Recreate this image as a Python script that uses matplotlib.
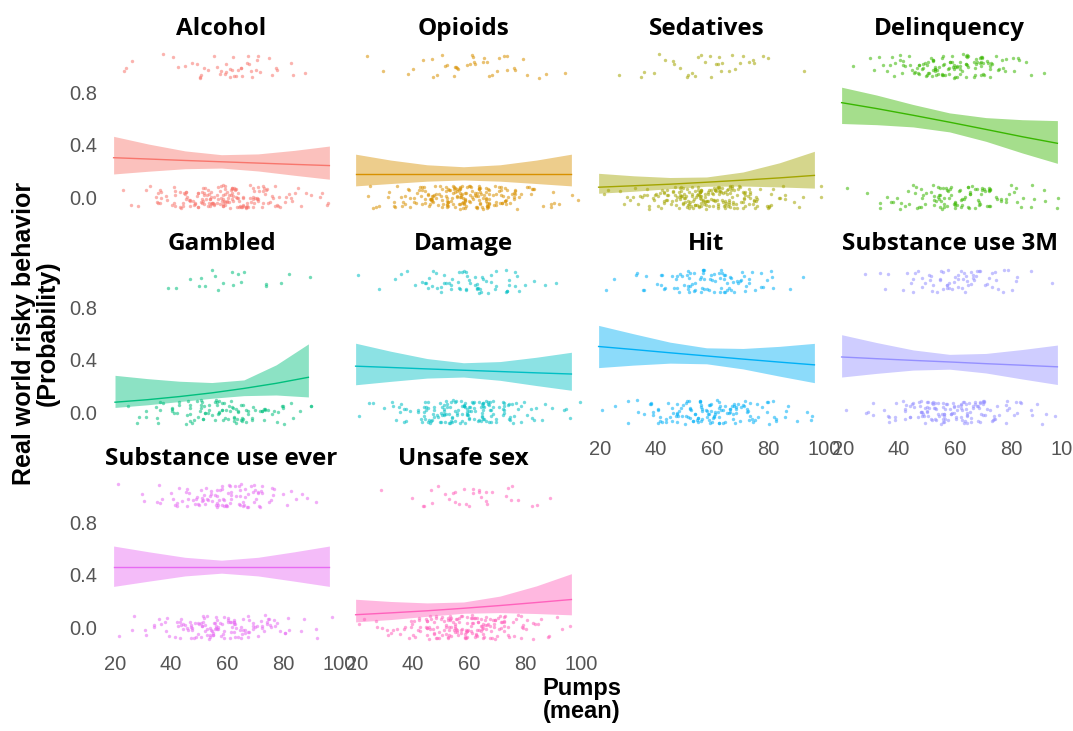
import numpy as np
import matplotlib
matplotlib.use("Agg")
import matplotlib.pyplot as plt

# ---- data -------------------------------------------------------------
behaviors = ["Alcohol", "Opioids", "Sedatives", "Delinquency",
             "Gambled", "Damage", "Hit", "Substance use 3M",
             "Substance use ever", "Unsafe sex"]

colors = ["#F8766D", "#D89000", "#A3A500", "#39B600", "#00BF7D",
          "#00BFC4", "#00B0F6", "#9590FF", "#E76BF3", "#FF62BC"]

# participants per 5-pump bin (20-25, 25-30, ..., 95-100)
bin_edges = [20, 25, 30, 35, 40, 45, 50, 55, 60, 65, 70, 75, 80, 85, 90, 95, 100]

yes_counts = {
    "Alcohol":            [2, 1, 0, 1, 2, 3, 5, 7, 8, 7, 5, 3, 2, 1, 0, 0],
    "Opioids":            [1, 1, 0, 1, 2, 3, 4, 5, 6, 5, 4, 3, 2, 1, 1, 0],
    "Sedatives":          [0, 1, 1, 2, 2, 3, 4, 5, 5, 4, 3, 2, 1, 0, 1, 0],
    "Delinquency":        [1, 1, 3, 5, 9, 13, 18, 20, 19, 15, 11, 6, 4, 2, 1, 0],
    "Gambled":            [0, 0, 0, 1, 1, 2, 3, 3, 3, 2, 2, 1, 1, 1, 0, 0],
    "Damage":             [1, 1, 1, 2, 4, 6, 9, 11, 11, 8, 6, 4, 2, 1, 1, 0],
    "Hit":                [1, 1, 2, 3, 6, 9, 13, 15, 14, 11, 8, 5, 3, 1, 1, 0],
    "Substance use 3M":   [0, 1, 1, 2, 4, 6, 9, 11, 11, 9, 7, 4, 3, 1, 1, 0],
    "Substance use ever": [1, 1, 2, 4, 6, 10, 14, 17, 16, 13, 9, 5, 3, 2, 1, 0],
    "Unsafe sex":         [0, 1, 0, 1, 2, 3, 4, 5, 5, 4, 3, 2, 2, 1, 0, 0],
}
no_counts = {
    "Alcohol":            [1, 2, 4, 8, 12, 18, 24, 28, 26, 21, 15, 9, 6, 4, 2, 2],
    "Opioids":            [2, 3, 6, 9, 14, 20, 28, 32, 30, 24, 17, 10, 6, 4, 2, 2],
    "Sedatives":          [2, 3, 6, 9, 14, 22, 29, 33, 31, 25, 17, 10, 7, 4, 2, 2],
    "Delinquency":        [1, 1, 2, 4, 6, 10, 13, 16, 16, 14, 11, 7, 5, 3, 2, 2],
    "Gambled":            [1, 2, 3, 5, 7, 11, 14, 16, 15, 12, 9, 6, 4, 2, 1, 0],
    "Damage":             [2, 2, 4, 7, 11, 17, 22, 25, 23, 19, 13, 8, 5, 3, 2, 2],
    "Hit":                [1, 2, 3, 6, 9, 14, 18, 20, 19, 16, 12, 7, 5, 3, 2, 2],
    "Substance use 3M":   [1, 2, 3, 6, 10, 15, 20, 22, 21, 17, 12, 7, 5, 3, 2, 1],
    "Substance use ever": [1, 2, 4, 6, 10, 14, 18, 20, 19, 15, 11, 6, 4, 2, 2, 1],
    "Unsafe sex":         [2, 3, 5, 8, 12, 18, 24, 28, 26, 21, 15, 9, 6, 3, 2, 1],
}

# logistic fit (probability) and 95% band at selected pump values
fit_x = {b: [19.5, 32, 45, 58, 71, 84, 96.5] for b in behaviors}
fit_x["Gambled"] = [20, 31.5, 43, 54.5, 66, 77.5, 89]

fit_p = {
    "Alcohol":            [0.300, 0.290, 0.279, 0.269, 0.259, 0.249, 0.240],
    "Opioids":            [0.175, 0.175, 0.175, 0.175, 0.175, 0.175, 0.175],
    "Sedatives":          [0.075, 0.086, 0.098, 0.113, 0.129, 0.146, 0.165],
    "Delinquency":        [0.720, 0.675, 0.624, 0.571, 0.516, 0.460, 0.410],
    "Gambled":            [0.075, 0.094, 0.118, 0.146, 0.180, 0.219, 0.265],
    "Damage":             [0.350, 0.340, 0.329, 0.319, 0.309, 0.299, 0.290],
    "Hit":                [0.500, 0.477, 0.452, 0.428, 0.404, 0.381, 0.360],
    "Substance use 3M":   [0.420, 0.407, 0.394, 0.382, 0.369, 0.357, 0.345],
    "Substance use ever": [0.460, 0.460, 0.460, 0.460, 0.460, 0.460, 0.460],
    "Unsafe sex":         [0.094, 0.108, 0.124, 0.143, 0.164, 0.187, 0.210],
}
fit_lo = {
    "Alcohol":            [0.176, 0.197, 0.216, 0.221, 0.199, 0.166, 0.136],
    "Opioids":            [0.085, 0.103, 0.121, 0.130, 0.121, 0.103, 0.085],
    "Sedatives":          [0.029, 0.044, 0.064, 0.082, 0.084, 0.077, 0.068],
    "Delinquency":        [0.561, 0.552, 0.535, 0.497, 0.425, 0.336, 0.257],
    "Gambled":            [0.035, 0.055, 0.080, 0.105, 0.125, 0.130, 0.115],
    "Damage":             [0.208, 0.234, 0.259, 0.267, 0.242, 0.202, 0.166],
    "Hit":                [0.339, 0.358, 0.373, 0.368, 0.329, 0.274, 0.224],
    "Substance use 3M":   [0.267, 0.295, 0.320, 0.327, 0.298, 0.252, 0.210],
    "Substance use ever": [0.310, 0.350, 0.390, 0.411, 0.390, 0.350, 0.310],
    "Unsafe sex":         [0.039, 0.057, 0.082, 0.105, 0.110, 0.103, 0.093],
}
fit_hi = {
    "Alcohol":            [0.463, 0.404, 0.352, 0.323, 0.329, 0.356, 0.389],
    "Opioids":            [0.327, 0.282, 0.246, 0.231, 0.246, 0.282, 0.327],
    "Sedatives":          [0.181, 0.162, 0.149, 0.153, 0.191, 0.261, 0.349],
    "Delinquency":        [0.838, 0.778, 0.706, 0.642, 0.606, 0.590, 0.583],
    "Gambled":            [0.280, 0.255, 0.235, 0.225, 0.245, 0.360, 0.520],
    "Damage":             [0.525, 0.464, 0.408, 0.376, 0.385, 0.418, 0.456],
    "Hit":                [0.661, 0.597, 0.533, 0.490, 0.485, 0.501, 0.524],
    "Substance use 3M":   [0.590, 0.530, 0.474, 0.440, 0.447, 0.477, 0.511],
    "Substance use ever": [0.618, 0.574, 0.532, 0.510, 0.532, 0.574, 0.618],
    "Unsafe sex":         [0.212, 0.195, 0.184, 0.191, 0.236, 0.314, 0.407],
}

x_ticks = [20, 40, 60, 80, 100]
y_ticks = [0.0, 0.4, 0.8]
y_tick_labels = ["0.0", "0.4", "0.8"]


# ---- helpers ----------------------------------------------------------
def _hash01(a, b):
    v = np.sin(a * 12.9898 + b * 78.233) * 43758.5453
    return v - np.floor(v)


def spread_points(counts, level, seed):
    """Lay out binned observations as a jittered strip around `level`."""
    xs, ys = [], []
    j = 0
    for i, n in enumerate(counts):
        lo, hi = bin_edges[i], bin_edges[i + 1]
        for k in range(n):
            fx = _hash01(j + 0.37, seed + 1.3)
            fy = _hash01(j + 5.11, seed * 1.7 + 9.1)
            xs.append(lo + (hi - lo) * fx)
            ys.append(level + 0.09 * (2 * fy - 1))
            j += 1
    return xs, ys


# ---- figure -----------------------------------------------------------
W, H = 1073, 731
fig = plt.figure(figsize=(W / 100, H / 100), dpi=100)
fig.patch.set_facecolor("white")

col_left = [101, 343, 586, 829]
row_top = [45, 260, 475]
ax_w, ax_h = 241, 173

tick_font = dict(family="Liberation Sans", size=14.5, color="#555555")
title_font = dict(family="Open Sans", size=17.5, weight="bold", color="black")

for idx, name in enumerate(behaviors):
    r, c = divmod(idx, 4)
    left = col_left[c] / W
    bottom = 1 - (row_top[r] + ax_h) / H
    ax = fig.add_axes([left, bottom, ax_w / W, ax_h / H])
    ax.set_xlim(15, 101)
    ax.set_ylim(-0.16, 1.16)
    for s in ax.spines.values():
        s.set_visible(False)
    ax.set_facecolor("none")
    col = colors[idx]

    # observations
    for level, counts, sd in ((0.0, no_counts[name], idx), (1.0, yes_counts[name], idx + 11)):
        px, py = spread_points(counts, level, sd)
        ax.scatter(px, py, s=6, color=col, alpha=0.55, linewidths=0, zorder=2)

    # fitted probability with confidence band
    ax.fill_between(fit_x[name], fit_lo[name], fit_hi[name], color=col,
                    alpha=0.45, linewidth=0, zorder=3)
    ax.plot(fit_x[name], fit_p[name], color=col, lw=1.0, zorder=4)

    ax.set_xticks(x_ticks)
    ax.set_yticks(y_ticks)
    ax.tick_params(length=0, pad=3)
    show_x = (r == 2) or (r == 1 and c >= 2)
    if show_x:
        ax.set_xticklabels([str(t) for t in x_ticks], **tick_font)
        ax.tick_params(axis="x", pad=5)
    else:
        ax.set_xticklabels([])
    if c == 0:
        ax.set_yticklabels(y_tick_labels, **tick_font)
    else:
        ax.set_yticklabels([])

    ax.text(0.5, 1 + 16 / ax_h, name, transform=ax.transAxes,
            ha="center", va="center", **title_font)

fig.text(36 / W, 1 - 333 / H, "Real world risky behavior\n(Probability)",
         rotation=90, ha="center", va="center", linespacing=0.95,
         family="Liberation Sans", size=18, weight="bold", color="black")
fig.text(582 / W, 1 - 700 / H, "Pumps\n(mean)", ha="center", va="center",
         linespacing=1.0, family="Liberation Sans", size=17, weight="bold",
         color="black")

fig.savefig("out.png", dpi=100, facecolor="white")
